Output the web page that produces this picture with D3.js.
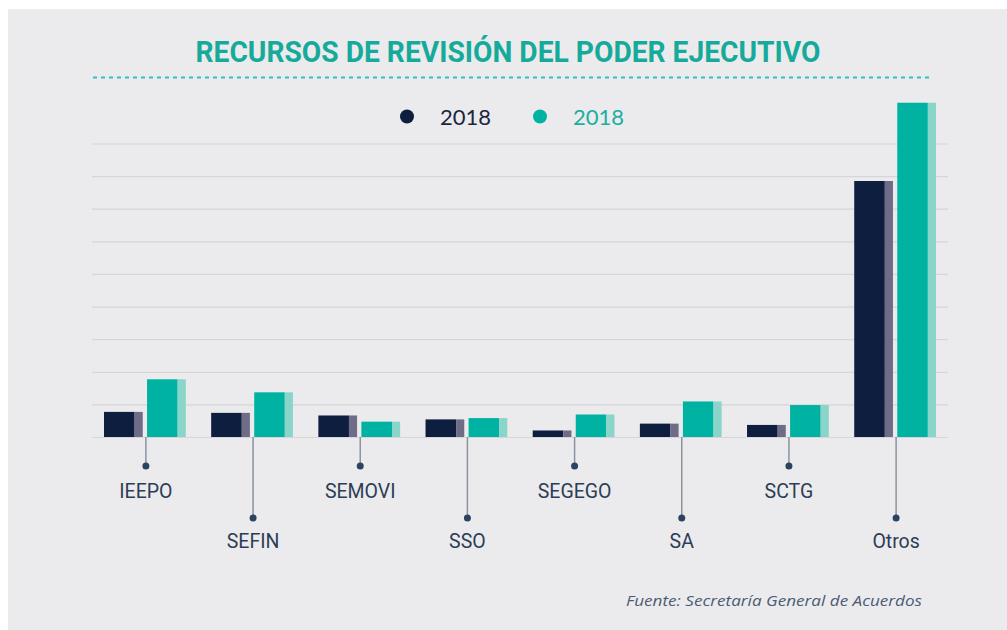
<!DOCTYPE html>
<html>
<meta charset="utf-8">
<script src="https://d3js.org/d3.v7.min.js"></script>
<style>
  body { margin: 0; background: #fff; }
</style>
<div id="chart_div"></div>
<script>

var categories = ["IEEPO", "SEFIN", "SEMOVI", "SSO", "SEGEGO", "SA", "SCTG", "Otros"];
var seriesNames = ["2018", "2018"];
var valuesA = [77, 74, 66, 54, 20, 41, 37, 785];
var valuesB = [177, 137, 47, 58, 69, 109, 98, 1025];
var gridTicks = [100, 200, 300, 400, 500, 600, 700, 800, 900];

var width = 1007, height = 630;
var main = ["#0e1e3f", "#00b2a2"];
var side = ["#6e6c86", "#8ad5ca"];

var svg = d3.select("#chart_div")
  .append("svg")
    .attr("width", width)
    .attr("height", height);

svg.append("rect")
  .attr("x", 8).attr("y", 9)
  .attr("width", width - 8).attr("height", height - 9)
  .attr("fill", "#ebebed");

// title + dotted rule
svg.append("text")
  .attr("x", 508).attr("y", 62)
  .attr("text-anchor", "middle")
  .attr("font-family", "Roboto")
  .attr("font-weight", 700)
  .attr("font-size", 29)
  .attr("textLength", 625)
  .attr("lengthAdjust", "spacingAndGlyphs")
  .attr("fill", "#16aa9a")
  .text("RECURSOS DE REVISIÓN DEL PODER EJECUTIVO");

svg.append("line")
  .attr("x1", 93).attr("x2", 931)
  .attr("y1", 77.5).attr("y2", 77.5)
  .attr("stroke", "#35bfc0")
  .attr("stroke-width", 2)
  .attr("stroke-dasharray", "4,4");

var y = d3.scaleLinear()
  .domain([0, 900])
  .range([437, 143.5]);

var x = d3.scaleBand()
  .domain(categories)
  .range([92, 948])
  .paddingInner(0.237)
  .paddingOuter(0.112);

var xs = d3.scaleBand()
  .domain([0, 1])
  .range([0, x.bandwidth()])
  .paddingInner(0.1);

// gridlines
svg.append("g")
  .attr("transform", "translate(92,0)")
  .call(d3.axisLeft(y).tickValues([0].concat(gridTicks)).tickSize(-856).tickFormat(""))
  .call(function(g) {
    g.select(".domain").remove();
    g.selectAll(".tick line").attr("stroke", "#d6d6da").attr("stroke-width", 1.2);
  });

// legend
var legendX = [407, 540];
seriesNames.forEach(function(name, i) {
  svg.append("circle")
    .attr("cx", legendX[i]).attr("cy", 116.5).attr("r", 7)
    .attr("fill", main[i]);
  svg.append("text")
    .attr("x", legendX[i] + 33).attr("y", 124.5)
    .attr("font-family", "Lato")
    .attr("font-size", 22)
    .attr("fill", i === 0 ? "#1d2542" : "#1aaf9f")
    .text(name);
});

var rows = categories.map(function(c, i) {
  return {cat: c, vals: [valuesA[i], valuesB[i]]};
});

var groups = svg.selectAll(".grp")
  .data(rows)
  .enter().append("g")
    .attr("transform", function(d) { return "translate(" + x(d.cat) + ",0)"; });

var bw = xs.bandwidth();
var stripW = bw * 0.21;

[0, 1].forEach(function(s) {
  groups.append("rect")
    .attr("x", xs(s))
    .attr("y", function(d) { return y(d.vals[s]); })
    .attr("width", bw - stripW)
    .attr("height", function(d) { return y(0) - y(d.vals[s]); })
    .attr("fill", main[s]);
  groups.append("rect")
    .attr("x", xs(s) + bw - stripW)
    .attr("y", function(d) { return y(d.vals[s]); })
    .attr("width", stripW)
    .attr("height", function(d) { return y(0) - y(d.vals[s]); })
    .attr("fill", side[s]);
});

// staggered labels with leader sticks
var cx = x.bandwidth() / 2 + 1;
groups.append("line")
  .attr("x1", cx).attr("x2", cx)
  .attr("y1", y(0))
  .attr("y2", function(d, i) { return i % 2 ? 518 : 466; })
  .attr("stroke", "#8c939f")
  .attr("stroke-width", 1.5);

groups.append("circle")
  .attr("cx", cx)
  .attr("cy", function(d, i) { return i % 2 ? 518 : 466; })
  .attr("r", 3.5)
  .attr("fill", "#2a4460");

groups.append("text")
  .attr("x", cx)
  .attr("y", function(d, i) { return i % 2 ? 548 : 497.5; })
  .attr("text-anchor", "middle")
  .attr("font-family", "Roboto")
  .attr("font-size", 19.5)
  .attr("fill", "#2d3d55")
  .text(function(d) { return d.cat; });

svg.append("text")
  .attr("x", 922).attr("y", 606)
  .attr("text-anchor", "end")
  .attr("font-family", "Open Sans")
  .attr("font-style", "italic")
  .attr("font-size", 14.5)
  .attr("textLength", 296)
  .attr("lengthAdjust", "spacingAndGlyphs")
  .attr("fill", "#4b5a75")
  .text("Fuente: Secretaría General de Acuerdos");

</script>
</html>
